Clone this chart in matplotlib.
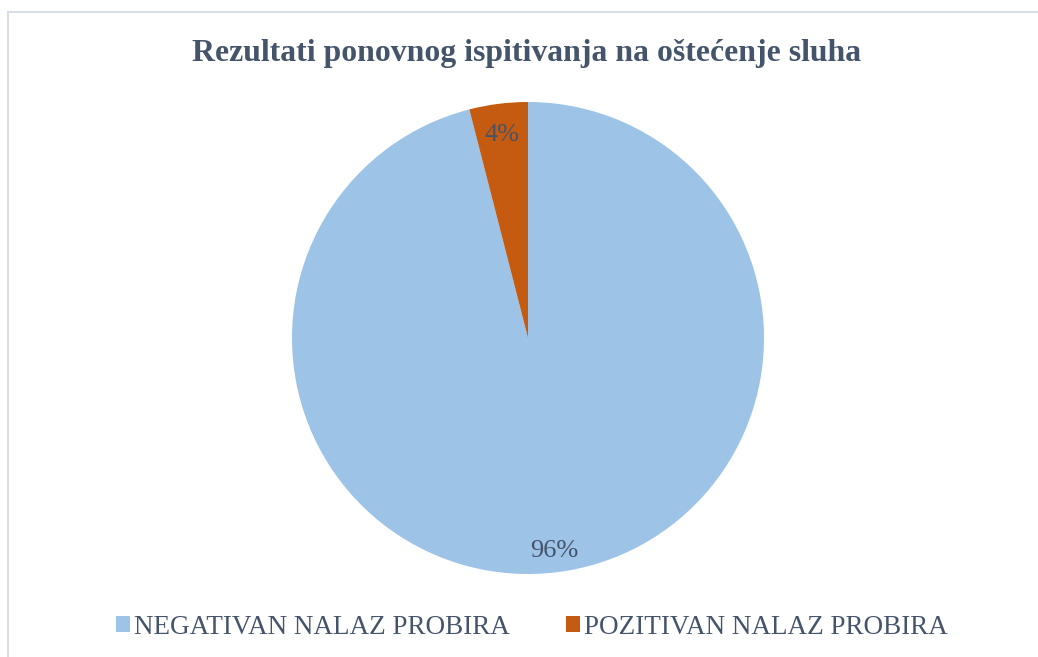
import matplotlib.pyplot as plt
from matplotlib.patches import Rectangle, Patch
from matplotlib.transforms import ScaledTranslation

labels = ['NEGATIVAN NALAZ PROBIRA', 'POZITIVAN NALAZ PROBIRA']
values = [96, 4]
colors = ['#9DC3E6', '#C55A11']
text_color = '#44546A'

plt.rcParams['font.family'] = ['Liberation Serif', 'DejaVu Serif']

W, H = 1038, 657
fig = plt.figure(figsize=(W / 100, H / 100), dpi=100)

# outer chart frame (cut off at right and bottom)
fig.add_artist(Rectangle((8 / W, -0.1), 1.2, 1.1 - 12 / H, transform=fig.transFigure,
                         fill=False, edgecolor='#D9DEE4', linewidth=1.5))

# pie centered at (528, 338) px with radius 236 px
cx, cy, r = 528, 338, 236
ax = fig.add_axes([(cx - r) / W, 1 - (cy + r) / H, 2 * r / W, 2 * r / H])
wedges, texts, autotexts = ax.pie(values, colors=colors, startangle=90, counterclock=False,
                                  autopct='%1.0f%%', pctdistance=0.89,
                                  wedgeprops={'linewidth': 0})
shift = ScaledTranslation(0, -5 / 100, fig.dpi_scale_trans)
for t in autotexts:
    t.set_color(text_color)
    t.set_fontsize(19)
    t.set_transform(t.get_transform() + shift)
ax.set_xlim(-1, 1)
ax.set_ylim(-1, 1)

fig.text(527 / W, 1 - 53 / H, 'Rezultati ponovnog ispitivanja na oštećenje sluha',
         ha='center', va='center', fontsize=22.9, fontweight='bold', color=text_color)

handles = [Patch(facecolor=c, edgecolor='none') for c in colors]
fig.legend(handles, labels, loc='center', bbox_to_anchor=(532 / W, 1 - 627 / H),
           ncol=2, frameon=False, fontsize=19.5, labelcolor=text_color,
           handlelength=0.5, handleheight=0.5, handletextpad=0.15, columnspacing=2.1)

fig.savefig('out.png', dpi=100)
